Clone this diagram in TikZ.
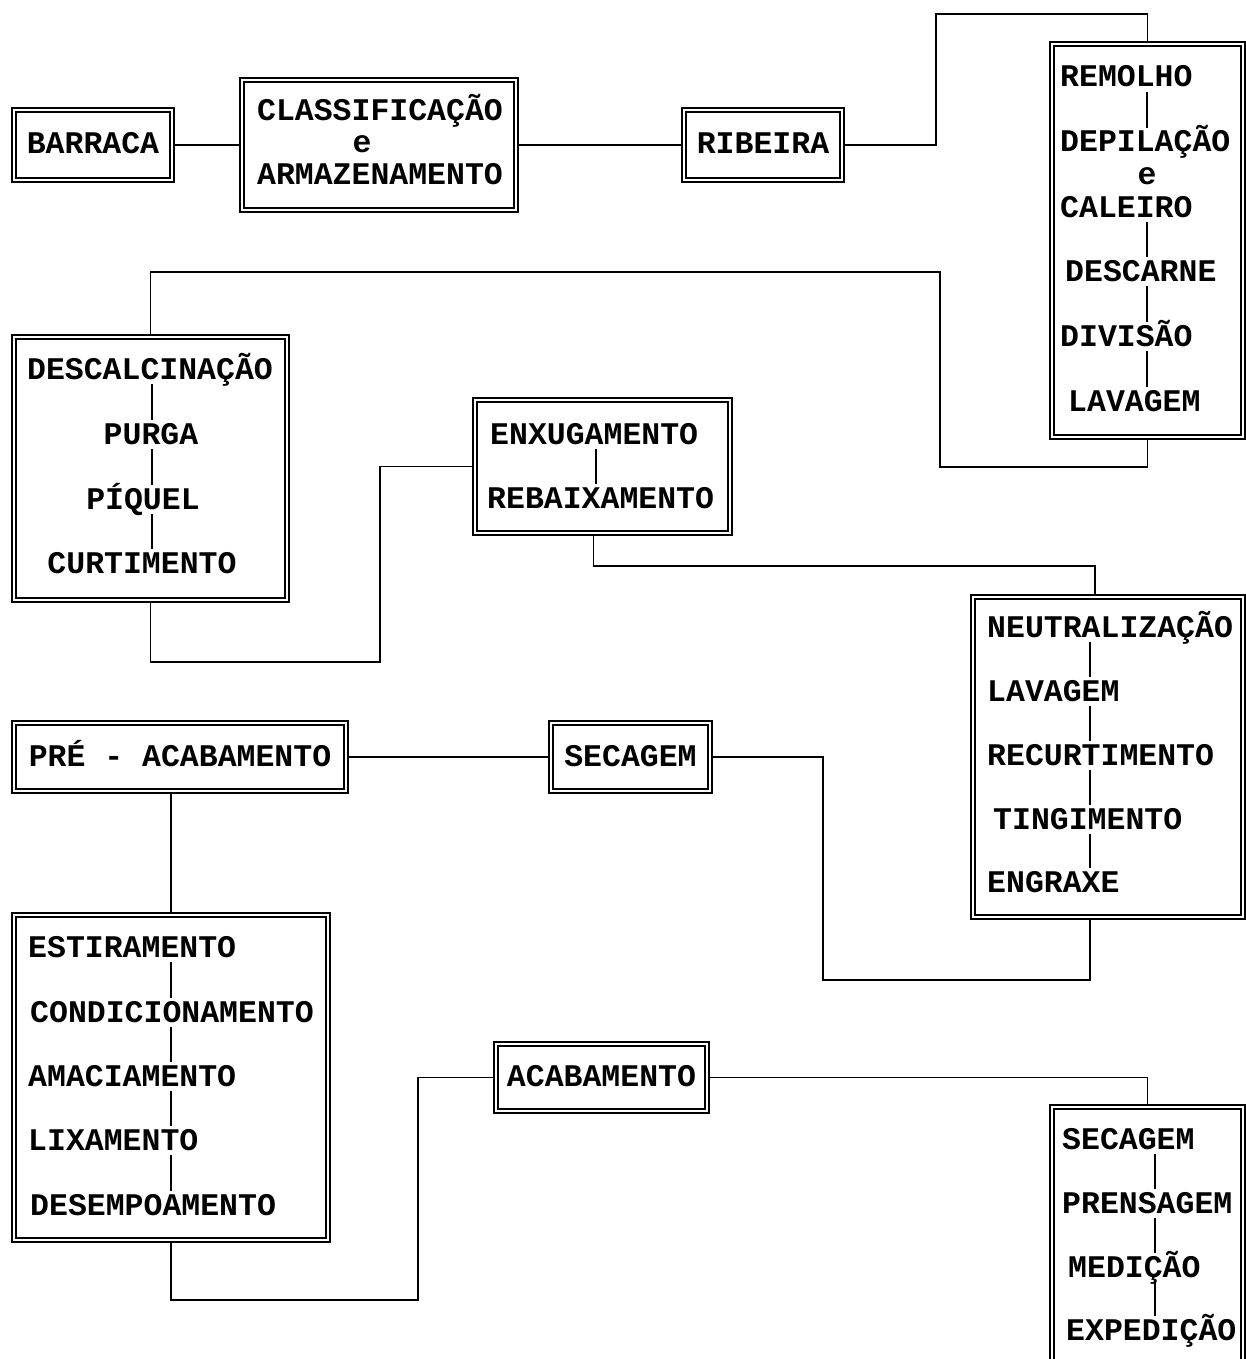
\documentclass[tikz,border=0pt]{standalone}
\usepackage{fontspec}
\newfontfamily\monofnt{Liberation Mono}
\begin{document}
\begin{tikzpicture}[x=1pt,y=-1pt,
  frame/.style={draw, line width=1.5pt, double, double distance=2.2pt, inner sep=0pt,
    font=\monofnt\bfseries\fontsize{31.5}{32}\selectfont, text height=18pt, text depth=0pt},
  item/.style={inner sep=0pt, font=\monofnt\bfseries\fontsize{31.5}{32}\selectfont, text height=18pt, text depth=0pt},
  conn/.style={draw, line width=1.6pt},
  tick/.style={draw, line width=2pt}]
\useasboundingbox (0,0) rectangle (1245,1359);

% boxes
\node[frame, minimum width=158pt, minimum height=70pt] (barraca) at (93,145) {BARRACA};
\node[frame, minimum width=274pt, minimum height=130pt] (classif) at (379,145) {};
\node[frame, minimum width=158pt, minimum height=70pt] (ribeira) at (763,145) {RIBEIRA};
\node[frame, minimum width=191pt, minimum height=393pt] (col1) at (1147.5,240.5) {};
\node[frame, minimum width=273pt, minimum height=263pt] (descalc) at (150.5,468.5) {};
\node[frame, minimum width=255pt, minimum height=133pt] (enxug) at (602.5,466.5) {};
\node[frame, minimum width=270pt, minimum height=320pt] (neut) at (1108,757) {};
\node[frame, minimum width=159pt, minimum height=68pt] (secagem) at (630.5,757) {SECAGEM};
\node[frame, minimum width=332pt, minimum height=68pt] (pre) at (180,757) {PRÉ - ACABAMENTO};
\node[frame, minimum width=314pt, minimum height=325pt] (estir) at (171,1077.5) {};
\node[frame, minimum width=211pt, minimum height=67pt] (acab) at (601.5,1077.5) {ACABAMENTO};
\node[frame, minimum width=191pt, minimum height=263pt] (col4) at (1147.5,1238.5) {};

% classificacao text
\node[item] (cl1) at (380,112) {CLASSIFICAÇÃO};
\node[item] (cl2) at (362,144) {e};
\node[item] (cl3) at (380,176) {ARMAZENAMENTO};

% column 1
\coordinate (s1) at (1147,0);
\node[item, anchor=west] (remolho) at (1060,78) {REMOLHO};
\node[item, anchor=west] (depil) at (1060,143) {DEPILAÇÃO};
\node[item] (e1) at (1147,176) {e};
\node[item, anchor=west] (caleiro) at (1060,208) {CALEIRO};
\node[item, anchor=west] (descarne) at (1065,272) {DESCARNE};
\node[item, anchor=west] (divisao) at (1060,337) {DIVISÃO};
\node[item, anchor=west] (lavagem1) at (1068,402) {LAVAGEM};
\path[tick] ([yshift=-5pt]remolho.south -| s1) -- ([yshift=6pt]depil.north -| s1);
\path[tick] ([yshift=-5pt]caleiro.south -| s1) -- ([yshift=6pt]descarne.north -| s1);
\path[tick] ([yshift=-5pt]descarne.south -| s1) -- ([yshift=6pt]divisao.north -| s1);
\path[tick] ([yshift=-5pt]divisao.south -| s1) -- ([yshift=6pt]lavagem1.north -| s1);

% descalcinacao
\coordinate (s2) at (152,0);
\node[item] (descal) at (150,370) {DESCALCINAÇÃO};
\node[item] (purga) at (151,435) {PURGA};
\node[item] (piquel) at (143,500) {PÍQUEL};
\node[item] (curt) at (142,564) {CURTIMENTO};
\path[tick] ([yshift=-5pt]descal.south -| s2) -- ([yshift=6pt]purga.north -| s2);
\path[tick] ([yshift=-5pt]purga.south -| s2) -- ([yshift=6pt]piquel.north -| s2);
\path[tick] ([yshift=-5pt]piquel.south -| s2) -- ([yshift=6pt]curt.north -| s2);

% enxugamento
\coordinate (s3) at (596,0);
\node[item, anchor=west] (enx) at (490,435) {ENXUGAMENTO};
\node[item, anchor=west] (rebx) at (487,499) {REBAIXAMENTO};
\path[tick] ([yshift=-5pt]enx.south -| s3) -- ([yshift=6pt]rebx.north -| s3);

% neutralizacao
\coordinate (s4) at (1090,0);
\node[item, anchor=west] (neutr) at (987,628) {NEUTRALIZAÇÃO};
\node[item, anchor=west] (lavagem2) at (987,692) {LAVAGEM};
\node[item, anchor=west] (recurt) at (987,756) {RECURTIMENTO};
\node[item, anchor=west] (ting) at (993,820) {TINGIMENTO};
\node[item, anchor=west] (engr) at (987,883) {ENGRAXE};
\path[tick] ([yshift=-5pt]neutr.south -| s4) -- ([yshift=6pt]lavagem2.north -| s4);
\path[tick] ([yshift=-5pt]lavagem2.south -| s4) -- ([yshift=6pt]recurt.north -| s4);
\path[tick] ([yshift=-5pt]recurt.south -| s4) -- ([yshift=6pt]ting.north -| s4);
\path[tick] ([yshift=-5pt]ting.south -| s4) -- ([yshift=6pt]engr.north -| s4);

% estiramento
\coordinate (s5) at (171,0);
\node[item, anchor=west] (estr) at (28,948) {ESTIRAMENTO};
\node[item, anchor=west] (cond) at (30,1013) {CONDICIONAMENTO};
\node[item, anchor=west] (amac) at (28,1077) {AMACIAMENTO};
\node[item, anchor=west] (lix) at (28,1141) {LIXAMENTO};
\node[item, anchor=west] (desemp) at (30,1206) {DESEMPOAMENTO};
\path[tick] ([yshift=-5pt]estr.south -| s5) -- ([yshift=6pt]cond.north -| s5);
\path[tick] ([yshift=-5pt]cond.south -| s5) -- ([yshift=6pt]amac.north -| s5);
\path[tick] ([yshift=-5pt]amac.south -| s5) -- ([yshift=6pt]lix.north -| s5);
\path[tick] ([yshift=-5pt]lix.south -| s5) -- ([yshift=6pt]desemp.north -| s5);

% column 4
\coordinate (s6) at (1155,0);
\node[item, anchor=west] (sec2) at (1062,1140) {SECAGEM};
\node[item, anchor=west] (prens) at (1062,1204) {PRENSAGEM};
\node[item, anchor=west] (medic) at (1068,1268) {MEDIÇÃO};
\node[item, anchor=west] (exped) at (1066,1331) {EXPEDIÇÃO};
\path[tick] ([yshift=-5pt]sec2.south -| s6) -- ([yshift=6pt]prens.north -| s6);
\path[tick] ([yshift=-5pt]prens.south -| s6) -- ([yshift=6pt]medic.north -| s6);
\path[tick] ([yshift=-5pt]medic.south -| s6) -- ([yshift=6pt]exped.north -| s6);

% connectors
\path[conn] (barraca.east) -- (classif.west);
\path[conn] (classif.east) -- (ribeira.west);
\path[conn] (ribeira.east) -| (936,14) -| (col1.north);
\path[conn] (col1.south) |- (940,467) -- (940,272) -| (descalc.north);
\path[conn] (descalc.south) |- (380,662) |- (enxug.west);
\path[conn] ([xshift=-9pt]enxug.south) -- ++(0,32) -| ([xshift=-13pt]neut.north);
\path[conn] ([xshift=-18pt]neut.south) |- (823,980) |- (secagem.east);
\path[conn] (secagem.west) -- (pre.east);
\path[conn] (estir.north |- pre.south) -- (estir.north);
\path[conn] (estir.south) |- (418,1300) |- (acab.west);
\path[conn] (acab.east) -| (col4.north);
\end{tikzpicture}
\end{document}
